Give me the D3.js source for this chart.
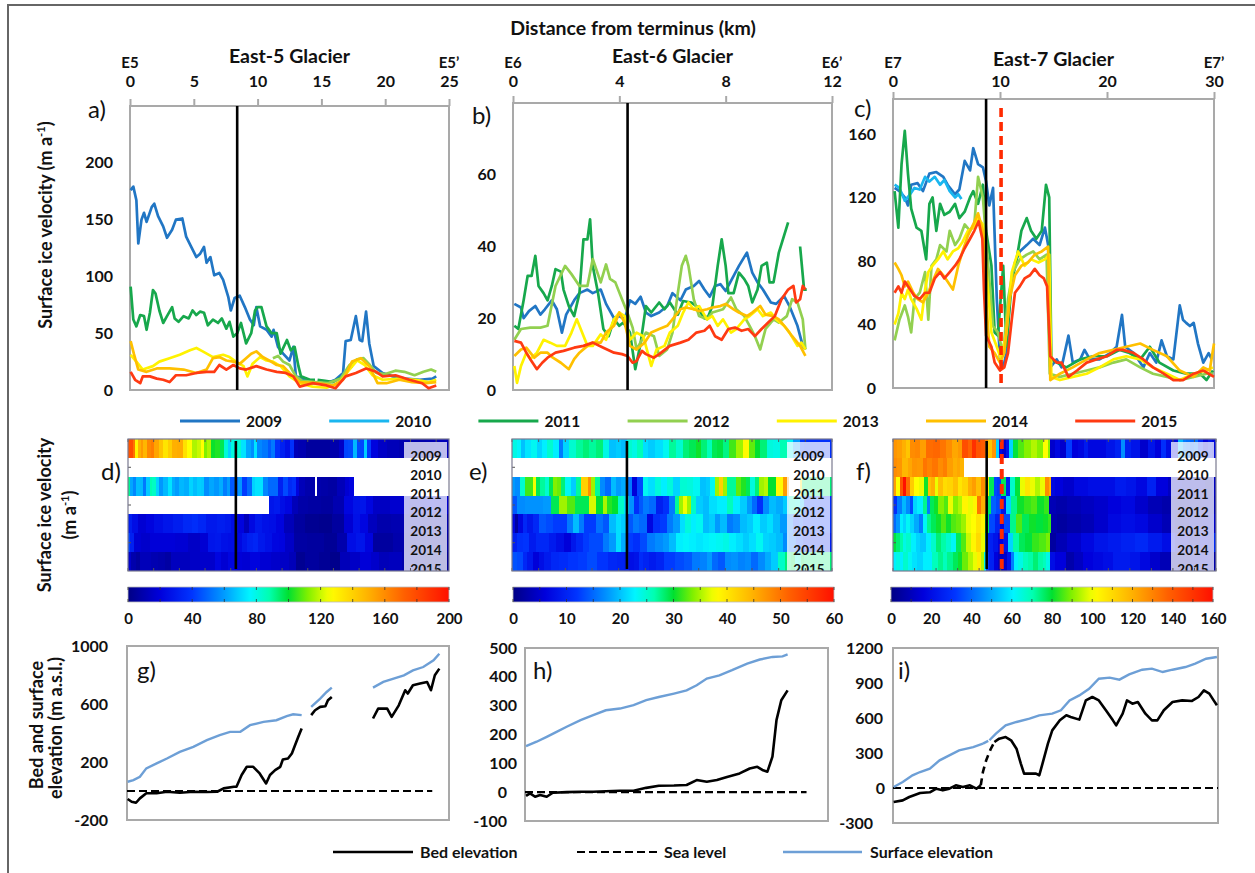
<!DOCTYPE html>
<html>
<head>
<meta charset="utf-8">
<script src="https://cdn.jsdelivr.net/npm/d3@7"></script>
<style>
  body { margin: 0; background: #fff; }
  text { font-family: Lato, "Open Sans", "DejaVu Sans", sans-serif; }
</style>
</head>
<body>
<svg id="fig" width="1255" height="873"></svg>
<script>
// ---------- categories ----------
const years = ["2009", "2010", "2011", "2012", "2013", "2014", "2015"];
const glaciers = ["East-5 Glacier", "East-6 Glacier", "East-7 Glacier"];
const profileEnds = [["E5", "E5\u2019"], ["E6", "E6\u2019"], ["E7", "E7\u2019"]];

// ---------- tick labels ----------
const distTicksE5 = [0, 5, 10, 15, 20, 25];
const distTicksE6 = [0, 4, 8, 12];
const distTicksE7 = [0, 10, 20, 30];
const velTicksE5 = [0, 50, 100, 150, 200];
const velTicksE6 = [0, 20, 40, 60];
const velTicksE7 = [0, 40, 80, 120, 160];
const colorTicksE5 = [0, 40, 80, 120, 160, 200];
const colorTicksE6 = [0, 10, 20, 30, 40, 50, 60];
const colorTicksE7 = [0, 20, 40, 60, 80, 100, 120, 140, 160];
const elevTicksE5 = [-200, 200, 600, 1000];
const elevTicksE6 = [-100, 0, 100, 200, 300, 400, 500];
const elevTicksE7 = [-300, 0, 300, 600, 900, 1200];

// ---------- surface ice velocity along profile: [km, m/a] ----------
const e5v2009 = [[0.05,176],[0.26,179],[0.5,167],[0.65,129],[0.9,150],[1.1,156],[1.3,148],[1.7,161],[1.9,164],[2.2,153],[2.6,144],[2.9,134],[3.3,141],[3.6,150],[4.1,151],[4.4,135],[4.8,126],[5.2,117],[5.5,120],[5.8,126],[6.0,112],[6.3,117],[6.6,101],[7.0,103],[7.3,97],[7.7,82],[7.9,70],[8.2,81],[8.6,83],[9.0,73],[9.4,62],[9.7,57],[9.9,73],[10.2,56],[10.7,53],[11.1,47],[11.25,53],[11.6,38],[12.0,32],[12.5,26],[12.8,38],[13.0,12],[13.5,10],[14.2,6],[15.4,6],[16.1,9],[16.7,15],[16.9,43],[17.3,44],[17.7,65],[18.0,44],[18.2,43],[18.5,69],[18.75,41],[19.1,21],[19.8,15],[20.6,12],[21.6,10],[22.7,9],[23.7,10],[24.0,12]];
const e5v2011 = [[0.05,91],[0.26,62],[0.5,56],[0.8,66],[1.1,65],[1.3,53],[1.56,68],[1.8,88],[2.0,85],[2.3,70],[2.6,59],[2.9,65],[3.3,73],[3.5,63],[3.8,60],[4.2,65],[4.6,63],[4.9,70],[5.2,66],[5.5,69],[5.8,68],[6.1,57],[6.5,62],[6.9,59],[7.2,63],[7.55,54],[7.8,60],[8.1,47],[8.4,50],[8.7,59],[9.1,41],[9.5,50],[9.8,70],[10.0,73],[10.3,73],[10.7,56],[11.1,50],[11.5,50],[11.8,32],[12.3,44],[12.6,35],[12.9,38],[13.2,21],[13.4,12],[14.1,9],[14.5,9],null,[14.7,9],[15.3,8],[15.9,7],[16.7,12],[17.1,18],[17.4,21]];
const e5v2012 = [[11.2,28],[11.6,30],[12.0,25],[12.5,22],[13.0,12],[13.5,8],[14.5,7],[15.5,6],[16.5,10],[17.2,22],[17.8,27],[18.3,28],[18.8,22],[19.3,15],[20.0,14],[20.8,17],[21.5,16],[22.3,13],[23.0,16],[23.6,18],[24.0,16]];
const e5v2013 = [[0.05,31],[0.5,25],[1.0,18],[1.8,21],[2.3,25],[3.1,28],[3.9,31],[4.7,35],[5.2,37],[5.7,34],[6.5,29],[7.3,31],[7.8,29],[8.3,25],[8.9,21],[9.2,12],[9.6,23],[10.2,29],[10.7,26],[11.2,25],[11.8,21],[12.5,12],[13.3,6],[14.3,3],[15.4,2],[16.4,6],[17.2,18],[17.8,26],[18.4,22],[19.0,13],[19.8,9],[21.1,10],[22.4,9],[23.4,7],[24.0,9]];
const e5v2014 = [[0.05,43],[0.3,32],[0.65,18],[1.3,16],[2.1,19],[3.1,19],[4.2,18],[5.2,15],[6.0,18],[6.5,28],[7.0,29],[7.55,26],[8.1,25],[8.6,23],[9.1,28],[9.5,32],[9.9,34],[10.4,29],[10.9,26],[11.5,22],[12.0,21],[12.5,15],[13.3,7],[14.6,6],[15.9,4],[16.7,9],[17.4,25],[18.1,28],[18.75,21],[19.4,6],[20.1,6],[21.1,9],[22.1,7],[23.2,6],[24.0,7]];
const e5v2015 = [[0.05,16],[0.4,9],[0.8,6],[1.0,12],[1.56,12],[2.1,10],[2.6,9],[3.1,7],[3.6,13],[4.4,13],[5.2,15],[6.0,16],[6.6,16],[7.0,22],[7.55,18],[8.1,22],[8.6,19],[9.1,18],[9.9,21],[10.7,18],[11.5,16],[12.2,15],[12.8,12],[13.3,3],[14.3,6],[15.4,4],[16.1,1.5],[16.9,12],[17.7,15],[18.5,19],[19.3,16],[19.8,12],[20.8,13],[21.9,9],[22.9,6],[23.4,1.5],[24.0,4]];

const e6v2009 = [[0.05,24],[0.3,23],[0.4,20],[0.6,22],[0.84,23.4],[1.03,21],[1.2,22.5],[1.46,25],[1.65,22.5],[1.84,16],[2.0,21],[2.3,25],[2.5,27],[2.8,28],[3.0,27],[3.3,28],[3.5,24],[3.8,20],[4.0,20.6],[4.2,19.7],[4.4,25],[4.6,24],[4.8,26],[5.0,21.6],[5.2,20.6],[5.5,21.6],[5.8,23.4],[6.0,27],[6.3,25],[6.5,28],[6.8,29],[7.0,30.4],[7.2,28],[7.4,26],[7.6,29],[7.8,29.5],[8.0,27.6],[8.3,31.8],[8.5,34.6],[8.8,38.3],[9.0,32.7],[9.2,30],[9.4,28],[9.7,24.4],[9.9,24],[10.2,26.2],[10.4,23.4],[10.7,17.9],[10.9,12.3],[11.0,11.3]];
const e6v2011 = [[0.05,17.9],[0.2,17],[0.4,25],[0.55,31.8],[0.7,31.8],[0.84,37.4],[0.96,29],[1.15,27],[1.3,25],[1.46,29],[1.6,33.7],[1.8,33],[1.9,28],[2.1,23.4],[2.3,20.6],[2.5,27],[2.65,42],[2.8,42],[2.9,47.6],[3.0,34.6],[3.2,27],[3.4,17],[3.6,15],[3.8,19.7],[4.0,17.9],[4.15,18.8],[4.4,16],[4.6,5.8],[4.8,13],[5.0,23.4],[5.2,21.6],[5.5,24.4],[5.7,22.5],[5.9,24.4],[6.2,21],[6.4,24.8],[6.7,24.4],[6.9,23.4],[7.2,20],[7.35,20.6],[7.5,23.4],[7.7,34.6],[7.85,42],[8.0,34.6],[8.1,27],[8.3,27],[8.5,32.7],[8.7,30.9],[8.85,29],[9.0,24.4],[9.2,28],[9.35,34.6],[9.55,35.5],[9.65,30],[9.8,30],[10.0,38.3],[10.35,46.7],null,[10.8,40],[10.95,28],[11.05,28]];
const e6v2012 = [[0.05,14],[0.3,17],[0.65,17.4],[1.03,17.4],[1.3,17.9],[1.6,29],[1.96,34.6],[2.2,32.3],[2.5,29],[2.8,29],[3.0,36.5],[3.3,30],[3.5,35],[3.65,31],[3.85,30],[4.1,25.3],[4.3,21.6],[4.5,17.4],[4.65,11.3],[4.85,14],[5.0,16],[5.3,15],[5.5,9.5],[5.8,11.3],[6.0,16],[6.2,27],[6.35,34.6],[6.5,37.4],[6.6,34.6],[6.8,25.3],[7.0,20.6],[7.3,19.7],[7.5,21.6],[7.9,22.5],[8.2,25.8],[8.4,22.5],[8.7,20.6],[8.9,17.9],[9.1,15],[9.3,11.3],[9.5,17],[9.8,19.7],[10.0,18.8],[10.3,20.6],[10.5,25.3],[10.7,24.4],[10.9,19.7],[11.0,11.3]];
const e6v2013 = [[0.05,6.7],[0.15,2],[0.3,6.7],[0.5,10.4],[0.65,8.6],[0.9,10.4],[1.15,14],[1.4,13.2],[1.65,12.3],[1.96,12.3],[2.2,16],[2.4,19.7],[2.6,16],[2.8,12.3],[3.0,12.3],[3.3,15.5],[3.5,14],[3.8,19.7],[4.0,21.6],[4.2,20.6],[4.4,14],[4.65,16],[4.9,15],[5.2,6.7],[5.4,11.3],[5.7,12.3],[5.9,16],[6.2,17.9],[6.4,21.6],[6.6,24.4],[6.8,22.5],[7.0,23.4],[7.3,19.7],[7.5,20.6],[7.7,17.9],[7.9,19.7],[8.2,16],[8.4,17],[8.7,19.7],[8.9,20.6],[9.2,22.5],[9.4,20.6],[9.7,21.6],[9.9,19.7],[10.2,17.9],[10.4,16],[10.7,12.3],[10.85,13.2],[11.0,11.3]];
const e6v2014 = [[0.05,9.5],[0.3,11.3],[0.5,11.8],[0.8,9],[1.03,10.4],[1.3,10.4],[1.5,9],[1.8,7.6],[2.1,5.8],[2.3,8.6],[2.5,10.4],[2.8,12.3],[3.0,13.2],[3.3,13.2],[3.5,16],[3.8,17.9],[4.0,21.6],[4.2,18.8],[4.4,12.3],[4.65,11.3],[4.95,13.2],[5.2,16],[5.5,17],[5.8,17.9],[6.0,19.7],[6.3,22.5],[6.5,23],[6.8,22.5],[7.0,22],[7.3,22.5],[7.5,23],[7.8,23.4],[8.0,24],[8.3,22.5],[8.5,21.6],[8.8,20.6],[9.0,21.6],[9.3,23.4],[9.5,21],[9.8,20.6],[10.0,19.7],[10.3,17],[10.5,15],[10.8,12.3],[11.0,9.5]];
const e6v2015 = [[0.05,13.7],[0.3,13.2],[0.5,10.4],[0.65,8.6],[0.9,5.8],[1.1,7.6],[1.3,9],[1.6,10.4],[1.9,10.9],[2.3,11.8],[2.65,12.3],[3.0,13.2],[3.4,11.8],[3.8,10.4],[4.1,10],[4.3,9.5],[4.5,7.6],[4.65,8.1],[4.85,10.9],[5.0,10],[5.3,9],[5.5,10],[5.9,12.3],[6.3,13.2],[6.6,14],[6.9,16],[7.2,16.5],[7.4,17.9],[7.6,15],[7.85,14],[8.1,17],[8.35,17.4],[8.6,16.5],[8.85,17],[9.1,15],[9.35,17],[9.6,18.8],[9.85,20.6],[10.1,25.3],[10.35,28],[10.55,29],[10.65,24.4],[10.8,25.3],[10.9,29],[11.0,28]];

const e7v2009 = [[0.15,126],[0.6,124],[1.1,120],[1.4,115],[1.7,128],[2.3,129],[2.8,124],[3.4,135],[4.05,136],[4.7,133],[5.1,128],[5.8,122],[6.2,125],[6.7,143],[7.2,137],[7.5,151],[7.95,141],[8.4,139],[8.7,130],[9.0,115],[9.35,126],[9.7,56],[10.0,18],[10.3,13],[10.6,22],[10.9,56],[11.4,79],[11.85,86],[12.5,90],[13.1,94],[13.7,90],[14.2,101],[14.5,90],[14.7,13],[15.3,18],[15.75,13],[16.4,33],[16.8,16],[17.5,18],[17.9,24],[18.4,18],[19.3,18],[20.3,22],[20.9,26],[21.4,46],[21.7,26],[22.5,22],[23.4,13],[24.0,22],[24.6,16],[25.1,30],[25.6,20],[26.2,18],[26.8,52],[27.1,43],[27.4,41],[27.75,39],[28.1,41],[28.5,28],[29.0,16],[29.5,22],[29.8,18]];
const e7v2010 = [[0.15,128],[0.6,126],[1.1,118],[1.6,122],[2.0,126],[2.5,125],[3.0,133],[3.4,130],[3.9,133],[4.4,128],[4.8,131],[5.3,124],[5.8,120],[6.1,122],[6.4,119]];
const e7v2011 = [[0.15,124],[0.5,101],[0.8,141],[1.1,162],[1.4,135],[1.7,113],[2.2,101],[2.65,99],[3.1,81],[3.4,116],[3.7,120],[4.05,99],[4.4,116],[4.8,109],[5.3,111],[5.8,116],[6.2,107],[6.7,111],[7.2,120],[7.5,124],[7.95,116],[8.4,128],[8.7,99],[9.2,77],[9.5,35],[9.8,33],[10.3,77],[10.6,26],[11.1,67],[11.5,79],[12.0,99],[12.5,107],[12.9,99],[13.4,94],[13.9,99],[14.3,128],[14.6,120],[14.8,18],[15.3,16],[16.2,13],[17.5,18],[18.7,20],[20.0,20],[21.2,24],[22.1,22],[23.1,18],[24.0,26],[24.9,16],[26.2,11],[27.4,9],[28.7,9],[29.3,5],[29.9,11]];
const e7v2012 = [[0.15,30],[0.6,43],[1.1,52],[1.4,45],[1.7,35],[2.0,56],[2.5,60],[3.0,73],[3.3,43],[3.6,77],[4.05,81],[4.4,90],[5.0,86],[5.3,99],[5.8,90],[6.2,94],[6.7,103],[7.2,99],[7.6,103],[7.95,133],[8.4,120],[8.9,77],[9.35,39],[9.8,35],[10.3,22],[10.75,56],[11.2,73],[11.85,81],[12.5,84],[13.1,86],[13.7,81],[14.35,84],[14.65,9],[15.6,7],[16.8,9],[18.1,11],[19.3,13],[20.6,16],[21.8,18],[23.1,13],[24.3,9],[25.6,7],[26.8,5],[28.1,7],[29.3,9],[29.9,9]];
const e7v2013 = [[0.15,40],[0.5,47],[0.8,60],[1.1,56],[1.4,62],[1.7,56],[2.2,50],[2.65,43],[3.0,62],[3.3,73],[3.7,77],[4.2,81],[4.7,86],[5.1,81],[5.6,86],[6.1,88],[6.5,92],[7.0,99],[7.5,101],[7.95,107],[8.4,103],[8.7,77],[9.2,35],[9.7,26],[10.1,18],[10.6,35],[11.1,73],[11.7,86],[12.3,77],[12.9,81],[13.6,79],[14.2,81],[14.6,84],[14.8,7],[15.6,5],[16.8,7],[18.1,9],[19.3,13],[20.6,18],[21.8,20],[23.1,18],[24.3,13],[25.6,9],[26.8,5],[28.1,9],[29.3,11],[29.9,13]];
const e7v2014 = [[0.15,79],[0.5,75],[0.8,71],[1.1,64],[1.4,67],[1.9,60],[2.3,56],[2.8,54],[3.3,60],[3.7,67],[4.2,75],[4.7,71],[5.1,67],[5.6,62],[6.1,77],[6.5,86],[7.0,96],[7.5,103],[7.95,110],[8.4,99],[8.7,56],[9.0,26],[9.5,22],[10.0,16],[10.4,22],[10.9,56],[11.4,71],[12.0,77],[12.6,79],[13.25,84],[13.9,86],[14.5,89],[14.7,5],[15.6,9],[16.8,13],[18.1,18],[19.3,22],[20.6,24],[21.8,26],[23.1,28],[24.3,24],[25.6,20],[26.8,11],[28.1,7],[29.0,13],[29.6,11],[30.0,28]];
const e7v2015 = [[0.15,60],[0.5,64],[0.8,60],[1.1,67],[1.6,62],[2.0,58],[2.5,56],[3.0,60],[3.4,60],[3.9,69],[4.4,73],[4.8,69],[5.3,73],[5.8,77],[6.2,81],[6.7,88],[7.2,94],[7.6,99],[8.0,105],[8.35,94],[8.5,62],[8.7,33],[9.2,26],[9.5,16],[10.0,11],[10.4,13],[10.75,22],[11.1,43],[11.4,60],[11.85,64],[12.3,69],[12.8,71],[13.25,75],[13.7,71],[14.1,69],[14.4,64],[14.7,20],[15.3,16],[15.75,16],[16.4,7],[17.2,11],[18.1,16],[19.0,18],[20.0,20],[20.9,24],[21.5,24],[22.5,22],[23.4,18],[24.3,13],[25.3,9],[26.2,5],[27.1,5],[28.1,9],[29.0,11],[30.0,7]];

// ---------- reference positions along profiles (km) ----------
const groundingLineKm = [8.4, 4.31, 8.7];
const e7DashedKm = 10.1;

// ---------- bed and surface elevation: [km, m a.s.l.] ----------
const e5Surface = [[0.05,64],[0.5,75],[1.0,98],[1.5,156],[2.3,190],[3.1,224],[4.1,270],[5.15,305],[6.2,351],[7.2,385],[8.0,408],[8.8,408],[9.55,454],[10.6,477],[11.6,488],[12.4,516],[12.9,529],[13.56,523],null,[14.3,580],[15.0,637],[15.5,683],[15.9,713],null,[19.1,713],[19.9,752],[20.7,775],[21.5,798],[22.2,832],[23.0,855],[23.8,901],[24.25,947]];
const e5Bed = [[0.05,-55],[0.36,-74],[0.7,-81],[1.0,-51],[1.5,-16],[2.3,-16],[3.1,-5],[4.1,-12],[5.15,-5],[6.2,-7],[7.0,-5],[7.5,18],[8.3,29],[8.5,29],[8.9,110],[9.3,167],[9.8,167],[10.3,121],[10.8,52],[11.1,110],[11.5,144],[11.9,167],[12.1,217],[12.5,224],[12.8,259],[13.0,305],[13.3,374],[13.56,431],null,[14.3,523],[14.6,557],[15.0,580],[15.4,584],[15.6,626],[15.9,649],null,[19.1,500],[19.5,568],[20.2,568],[20.55,511],[21.1,591],[21.6,695],[21.8,672],[22.2,729],[22.75,741],[23.3,752],[23.6,695],[23.9,798],[24.25,844]];
const e5SeaLevel = [[0,0],[23.7,0]];

const e6Surface = [[0.04,160],[0.46,175],[0.86,192],[1.25,209],[1.65,227],[2.2,250],[2.7,267],[3.2,284],[3.76,290],[4.3,302],[4.8,319],[5.3,330],[5.9,342],[6.4,353],[6.8,371],[7.2,394],[7.7,405],[8.2,423],[8.8,446],[9.3,460],[9.8,469],[10.2,471],[10.4,478]];
const e6Bed = [[0.04,-13],[0.2,-4],[0.4,-16],[0.6,-10],[0.86,-16],[1.1,-2],[1.65,0],[2.2,1.5],[2.7,1.5],[3.2,3],[3.76,5],[4.3,5],[4.8,15],[5.3,22],[5.9,23],[6.4,25],[6.8,42],[7.2,36],[7.6,42],[8.0,53],[8.5,65],[8.9,82],[9.2,88],[9.4,77],[9.6,71],[9.8,123],[9.96,250],[10.15,319],[10.4,353]];
const e6SeaLevel = [[0,0],[11.15,0]];

const e7Surface = [[0.06,9],[0.9,51],[1.8,109],[2.5,137],[3.4,166],[4.3,237],[5.2,280],[6.1,323],[7.4,351],[8.3,380],null,[8.9,409],[9.5,466],[10.4,537],[11.4,566],[12.6,594],[13.5,623],[14.7,637],[15.5,666],[16.3,751],[17.2,794],[18.1,851],[19.0,937],[20.0,946],[20.9,929],[21.8,974],[23.0,1014],[23.9,1023],[24.9,994],[25.8,1014],[27.0,1037],[27.9,1066],[28.9,1108],[29.9,1123]];
const e7SurfaceLink = [[8.3,380],[8.9,409]];
const e7Bed = [[0.06,-120],[0.9,-106],[1.5,-77],[2.5,-43],[3.4,-37],[4.0,-6],[4.6,-20],[5.2,-6],[5.8,23],[6.45,9],[7.1,23],[7.7,-6],[8.1,23],null,[9.36,394],[9.8,423],[10.4,437],[10.9,409],[11.4,337],[11.8,209],[12.1,123],[12.6,123],[13.2,123],[13.5,109],[13.8,209],[14.3,380],[14.7,494],[15.4,580],[16.0,623],[16.4,609],[17.2,586],[17.8,751],[18.4,780],[19.0,751],[19.65,666],[20.3,580],[20.6,537],[21.2,637],[21.6,751],[22.1,723],[22.6,737],[23.3,637],[23.9,580],[24.4,580],[25.0,666],[25.8,737],[26.7,751],[27.6,746],[28.2,780],[28.7,837],[29.2,809],[29.6,751],[29.9,709]];
const e7BedLink = [[8.1,23],[8.3,137],[8.6,237],[9.0,330],[9.36,394]];
const e7SeaLevel = [[0,0],[30,0]];

// ---------- styling ----------
const FONT = 'Lato, "Open Sans", "DejaVu Sans", sans-serif';
const yearColors = {
  "2009": "#2176c4", "2010": "#1ab6ef", "2011": "#17a84c", "2012": "#92d050",
  "2013": "#fff200", "2014": "#ffc000", "2015": "#ff3a12"
};
const surfaceColor = "#6d9fd6";
const axisGrey = "#a9a9a9";
const plainNum = d => String(d);
const jetStops = [[0,"#000085"],[0.1,"#0000dc"],[0.2,"#0035ff"],[0.3,"#009cff"],[0.38,"#00f5ff"],[0.44,"#00ffb0"],[0.5,"#00e030"],[0.56,"#80f000"],[0.63,"#ffff00"],[0.75,"#ffb000"],[0.86,"#ff6000"],[1,"#ff1000"]];
function jet(t) {
  t = Math.max(0, Math.min(1, t));
  for (let i = 1; i < jetStops.length; i++) {
    if (t <= jetStops[i][0]) {
      const [t0, c0] = jetStops[i - 1], [t1, c1] = jetStops[i];
      return d3.interpolateRgb(c0, c1)((t - t0) / (t1 - t0));
    }
  }
  return jetStops[jetStops.length - 1][1];
}

const svg = d3.select("#fig");
svg.append("rect").attr("width", 1255).attr("height", 873).attr("fill", "#fff");
svg.append("path").attr("d", "M8,873V5H1255").attr("fill", "none").attr("stroke", "#666").attr("stroke-width", 2);

function label(txt, x, y, opts = {}) {
  return svg.append("text").attr("x", x).attr("y", y)
    .attr("text-anchor", opts.anchor || "middle")
    .attr("font-size", opts.size || 16)
    .attr("font-weight", opts.weight || "bold")
    .attr("fill", opts.fill || "#111")
    .text(txt);
}
function vLabel(parts, cx, cy, size) {
  const t = svg.append("text")
    .attr("transform", `translate(${cx},${cy}) rotate(-90)`)
    .attr("text-anchor", "middle").attr("dy", "0.35em")
    .attr("font-size", size).attr("font-weight", "bold").attr("fill", "#111");
  parts.forEach(p => {
    const s = t.append("tspan").text(p.t);
    if (p.sup) s.attr("font-size", size * 0.62).attr("dy", -size * 0.42);
    if (p.down) s.attr("dy", size * 0.42);
  });
}

const lineGen = (x, y) => d3.line().defined(d => d !== null).x(d => x(d[0])).y(d => y(d[1]));

// ---------- velocity profile panels (a-c) ----------
const velPanels = [
  { left: 130, right: 449, top: 106, bottom: 390, xMax: 25, xTicks: distTicksE5, yMax: 250, yTicks: velTicksE5, titleY: 63,
    series: { "2009": e5v2009, "2011": e5v2011, "2012": e5v2012, "2013": e5v2013, "2014": e5v2014, "2015": e5v2015 },
    letter: "a)", lx: 88, ly: 118 },
  { left: 513, right: 832, top: 103, bottom: 390, xMax: 12, xTicks: distTicksE6, yMax: 80, yTicks: velTicksE6, titleY: 63,
    series: { "2009": e6v2009, "2011": e6v2011, "2012": e6v2012, "2013": e6v2013, "2014": e6v2014, "2015": e6v2015 },
    letter: "b)", lx: 472, ly: 124 },
  { left: 893, right: 1214, top: 99, bottom: 388, xMax: 30, xTicks: distTicksE7, yMax: 182, yTicks: velTicksE7, titleY: 66,
    series: { "2009": e7v2009, "2010": e7v2010, "2011": e7v2011, "2012": e7v2012, "2013": e7v2013, "2014": e7v2014, "2015": e7v2015 },
    letter: "c)", lx: 854, ly: 117, dashedKm: e7DashedKm }
];

velPanels.forEach((p, i) => {
  const x = d3.scaleLinear().domain([0, p.xMax]).range([p.left, p.right]);
  const y = d3.scaleLinear().domain([0, p.yMax]).range([p.bottom, p.top]);
  const g = svg.append("g");

  // distance axis along the top
  const ax = g.append("g").attr("transform", `translate(0,${p.top})`)
    .call(d3.axisTop(x).tickValues(p.xTicks).tickSize(7).tickFormat(plainNum));
  ax.select(".domain").remove();
  ax.selectAll("line").attr("stroke", axisGrey).attr("stroke-width", 2);
  ax.selectAll("text").attr("y", 87 - p.top).attr("dy", 0)
    .attr("font-size", 16).attr("font-weight", "bold").attr("font-family", FONT).attr("fill", "#111");

  // velocity axis
  const ay = g.append("g").attr("transform", `translate(${p.left},0)`)
    .call(d3.axisLeft(y).tickValues(p.yTicks).tickSize(0).tickPadding(17).tickFormat(plainNum));
  ay.select(".domain").remove();
  ay.selectAll("text").attr("font-size", 16).attr("font-weight", "bold").attr("font-family", FONT).attr("fill", "#111");

  g.append("rect").attr("x", p.left).attr("y", p.top).attr("width", p.right - p.left).attr("height", p.bottom - p.top)
    .attr("fill", "none").attr("stroke", axisGrey).attr("stroke-width", 2);

  years.forEach(yr => {
    const data = p.series[yr];
    if (!data) return;
    g.append("path").datum(data).attr("d", lineGen(x, y))
      .attr("fill", "none").attr("stroke", yearColors[yr]).attr("stroke-width", 2.7).attr("stroke-linejoin", "round");
  });

  g.append("line").attr("x1", x(groundingLineKm[i])).attr("x2", x(groundingLineKm[i]))
    .attr("y1", p.top).attr("y2", p.bottom).attr("stroke", "#000").attr("stroke-width", 2.6);
  if (p.dashedKm !== undefined) {
    g.append("line").attr("x1", x(p.dashedKm)).attr("x2", x(p.dashedKm))
      .attr("y1", p.top + 9).attr("y2", p.bottom).attr("stroke", "#ff2a00").attr("stroke-width", 3.6)
      .attr("stroke-dasharray", "9,5");
  }

  label(profileEnds[i][0], p.left, 68, { size: 15 });
  label(profileEnds[i][1], p.right, 68, { size: 15 });
  label(glaciers[i], (p.left + p.right) / 2, p.titleY, { size: 19.5 });
  label(p.letter, p.lx, p.ly, { anchor: "start", size: 24, weight: "normal" });
});

label("Distance from terminus (km)", 633, 35, { size: 19.5 });
vLabel([{ t: "Surface ice velocity (m a" }, { t: "-1", sup: true }, { t: ")", down: true }], 46, 225, 18);

// ---------- year legend ----------
years.forEach((yr, i) => {
  const x0 = 180 + i * 149.2;
  svg.append("line").attr("x1", x0).attr("x2", x0 + 60).attr("y1", 421).attr("y2", 421)
    .attr("stroke", yearColors[yr]).attr("stroke-width", 3);
  label(yr, x0 + 66, 427, { anchor: "start", size: 15.5 });
});

// ---------- velocity heat maps (d-f) ----------
const heatPanels = [
  { left: 128, right: 449, vmax: 200, cTicks: colorTicksE5, cbL: 128, cbR: 449, letter: "d)", lx: 101 },
  { left: 512, right: 832, vmax: 60, cTicks: colorTicksE6, cbL: 513, cbR: 834, letter: "e)", lx: 469 },
  { left: 893, right: 1216, vmax: 160, cTicks: colorTicksE7, cbL: 891, cbR: 1213, letter: "f)", lx: 856 }
];
const hTop = 439, hBot = 571, rowH = (hBot - hTop) / years.length;
const defs = svg.append("defs");

function cellsFrom(data, xMax) {
  // one cell per sample, spanning half-way to its neighbours
  const cells = [];
  let seg = [];
  const segs = [];
  data.forEach(d => {
    if (d === null) { if (seg.length) segs.push({ pts: seg, endGap: true }); seg = []; }
    else seg.push(d);
  });
  if (seg.length) segs.push({ pts: seg, endGap: false });
  segs.forEach((s, si) => {
    const pts = s.pts, n = pts.length;
    const startGap = si > 0;
    pts.forEach((d, j) => {
      let e0, e1;
      if (j === 0) e0 = startGap ? d[0] : (d[0] < 0.6 ? 0 : d[0] - (n > 1 ? (pts[1][0] - d[0]) / 2 : 0.2));
      else e0 = (pts[j - 1][0] + d[0]) / 2;
      if (j === n - 1) e1 = s.endGap ? d[0] : (xMax - d[0] < 1.2 ? xMax : d[0] + (n > 1 ? (d[0] - pts[j - 1][0]) / 2 : 0.2));
      else e1 = (d[0] + pts[j + 1][0]) / 2;
      cells.push({ x0: e0, x1: e1, v: d[1] });
    });
  });
  return cells;
}

heatPanels.forEach((h, i) => {
  const vp = velPanels[i];
  const x = d3.scaleLinear().domain([0, vp.xMax]).range([h.left, h.right]);
  const g = svg.append("g");
  const clipId = "hclip" + i;
  defs.append("clipPath").attr("id", clipId).append("rect")
    .attr("x", h.left).attr("y", hTop).attr("width", h.right - h.left).attr("height", hBot - hTop);
  const inner = g.append("g").attr("clip-path", `url(#${clipId})`);

  years.forEach((yr, r) => {
    const data = vp.series[yr];
    if (!data) return;
    inner.selectAll(null).data(cellsFrom(data, vp.xMax)).join("rect")
      .attr("x", c => x(c.x0)).attr("width", c => Math.max(0, x(c.x1) - x(c.x0)) + 0.6)
      .attr("y", hTop + r * rowH).attr("height", rowH + 0.4)
      .attr("fill", c => jet(c.v / h.vmax)).attr("shape-rendering", "crispEdges");
  });

  // year key
  inner.append("rect").attr("x", h.right - 45).attr("y", hTop + 3).attr("width", 43).attr("height", hBot - hTop - 3)
    .attr("fill", "rgba(255,255,255,0.74)");
  years.forEach((yr, r) => {
    inner.append("text").attr("x", h.right - 23).attr("y", hTop + (r + 1) * rowH + 3)
      .attr("text-anchor", "middle").attr("font-size", 13.5).attr("font-weight", "bold").attr("fill", "#111").text(yr);
  });

  inner.append("line").attr("x1", x(groundingLineKm[i])).attr("x2", x(groundingLineKm[i]))
    .attr("y1", hTop + 2).attr("y2", hBot - 2).attr("stroke", "#000").attr("stroke-width", 2.6);
  if (vp.dashedKm !== undefined) {
    inner.append("line").attr("x1", x(vp.dashedKm)).attr("x2", x(vp.dashedKm))
      .attr("y1", hTop).attr("y2", hBot).attr("stroke", "#ff2a00").attr("stroke-width", 4)
      .attr("stroke-dasharray", "10,5");
  }
  // small frame ticks
  const tk = g.append("g").attr("stroke", "#555").attr("stroke-width", 1);
  x.ticks(10).forEach(v => {
    tk.append("line").attr("x1", x(v)).attr("x2", x(v)).attr("y1", hTop).attr("y2", hTop + 3);
    tk.append("line").attr("x1", x(v)).attr("x2", x(v)).attr("y1", hBot).attr("y2", hBot - 3);
  });
  [1, 3, 5].forEach(r => tk.append("line").attr("x1", h.left).attr("x2", h.left + 3)
    .attr("y1", hTop + r * rowH + rowH / 2).attr("y2", hTop + r * rowH + rowH / 2));
  g.append("rect").attr("x", h.left).attr("y", hTop).attr("width", h.right - h.left).attr("height", hBot - hTop)
    .attr("fill", "none").attr("stroke", "#7a7a90").attr("stroke-width", 1.2);

  label(h.letter, h.lx, 480, { anchor: "start", size: 24, weight: "normal" });

  // colour bar
  const cx = d3.scaleLinear().domain([0, h.vmax]).range([h.cbL, h.cbR]);
  const gradId = "grad" + i;
  const grad = defs.append("linearGradient").attr("id", gradId);
  d3.range(0, 1.0001, 0.02).forEach(t => grad.append("stop").attr("offset", t).attr("stop-color", jet(t)));
  g.append("rect").attr("x", h.cbL).attr("y", 587).attr("width", h.cbR - h.cbL).attr("height", 15)
    .attr("fill", `url(#${gradId})`).attr("stroke", "#bbb").attr("stroke-width", 0.8);
  const cbt = g.append("g").attr("stroke", "#333").attr("stroke-width", 0.8);
  cx.ticks(h.cTicks.length * 2).forEach(v => {
    cbt.append("line").attr("x1", cx(v)).attr("x2", cx(v)).attr("y1", 587).attr("y2", 590);
    cbt.append("line").attr("x1", cx(v)).attr("x2", cx(v)).attr("y1", 602).attr("y2", 599);
  });
  const cax = g.append("g").attr("transform", "translate(0,602)")
    .call(d3.axisBottom(cx).tickValues(h.cTicks).tickSize(0).tickPadding(0).tickFormat(plainNum));
  cax.select(".domain").remove();
  cax.selectAll("text").attr("y", 22).attr("dy", 0).attr("font-size", 15).attr("font-weight", "bold")
    .attr("font-family", FONT).attr("fill", "#111");
});

vLabel([{ t: "Surface ice velocity" }], 45, 515, 18);
vLabel([{ t: "(m a" }, { t: "-1", sup: true }, { t: ")", down: true }], 70, 515, 18);

// ---------- bed and surface elevation panels (g-i) ----------
const elevPanels = [
  { left: 127, right: 449, top: 646, bottom: 820, xMax: 25, y: [-200, 1000], ticks: elevTicksE5,
    surface: e5Surface, bed: e5Bed, sea: e5SeaLevel, letter: "g)", lx: 137, labelEnd: v => 108 },
  { left: 525, right: 828, top: 648, bottom: 821, xMax: 12, y: [-100, 500], ticks: elevTicksE6,
    surface: e6Surface, bed: e6Bed, sea: e6SeaLevel, letter: "h)", lx: 533, labelEnd: v => (v > 0 ? 517 : 507) },
  { left: 893, right: 1218, top: 648, bottom: 823, xMax: 30, y: [-300, 1200], ticks: elevTicksE7,
    surface: e7Surface, bed: e7Bed, sea: e7SeaLevel, letter: "i)", lx: 898,
    surfaceLink: e7SurfaceLink, bedLink: e7BedLink, labelEnd: v => (v > 0 ? 883 : v === 0 ? 885 : 873) }
];

elevPanels.forEach(p => {
  const x = d3.scaleLinear().domain([0, p.xMax]).range([p.left, p.right]);
  const y = d3.scaleLinear().domain(p.y).range([p.bottom, p.top]);
  const g = svg.append("g");
  const ay = g.append("g").attr("transform", `translate(${p.left},0)`)
    .call(d3.axisLeft(y).tickValues(p.ticks).tickSize(0).tickFormat(plainNum));
  ay.select(".domain").remove();
  ay.selectAll("text").attr("x", v => p.labelEnd(v) - p.left).attr("font-size", 16).attr("font-weight", "bold")
    .attr("font-family", FONT).attr("fill", "#111");
  g.append("rect").attr("x", p.left).attr("y", p.top).attr("width", p.right - p.left).attr("height", p.bottom - p.top)
    .attr("fill", "none").attr("stroke", axisGrey).attr("stroke-width", 2);

  const lg = lineGen(x, y);
  g.append("path").datum(p.sea).attr("d", lg).attr("fill", "none").attr("stroke", "#000")
    .attr("stroke-width", 2.2).attr("stroke-dasharray", "8,4");
  g.append("path").datum(p.surface).attr("d", lg).attr("fill", "none").attr("stroke", surfaceColor).attr("stroke-width", 2.4);
  if (p.surfaceLink) g.append("path").datum(p.surfaceLink).attr("d", lg).attr("fill", "none")
    .attr("stroke", surfaceColor).attr("stroke-width", 2.4).attr("stroke-dasharray", "6,4");
  g.append("path").datum(p.bed).attr("d", lg).attr("fill", "none").attr("stroke", "#000")
    .attr("stroke-width", 2.6).attr("stroke-linejoin", "round");
  if (p.bedLink) g.append("path").datum(p.bedLink).attr("d", lg).attr("fill", "none")
    .attr("stroke", "#000").attr("stroke-width", 2.6).attr("stroke-dasharray", "7,5");

  label(p.letter, p.lx, 679, { anchor: "start", size: 24, weight: "normal" });
});

vLabel([{ t: "Bed and surface" }], 37, 725, 18);
vLabel([{ t: "elevation (m a.s.l.)" }], 56, 728, 18);

// ---------- elevation legend ----------
svg.append("line").attr("x1", 333).attr("x2", 413).attr("y1", 852).attr("y2", 852).attr("stroke", "#000").attr("stroke-width", 2.6);
label("Bed elevation", 420, 858, { anchor: "start", size: 16 });
svg.append("line").attr("x1", 577).attr("x2", 657).attr("y1", 852).attr("y2", 852).attr("stroke", "#000")
  .attr("stroke-width", 2.2).attr("stroke-dasharray", "8,4");
label("Sea level", 664, 858, { anchor: "start", size: 16 });
svg.append("line").attr("x1", 783).attr("x2", 862).attr("y1", 852).attr("y2", 852).attr("stroke", surfaceColor).attr("stroke-width", 2.6);
label("Surface elevation", 870, 858, { anchor: "start", size: 16 });
</script>
</body>
</html>
